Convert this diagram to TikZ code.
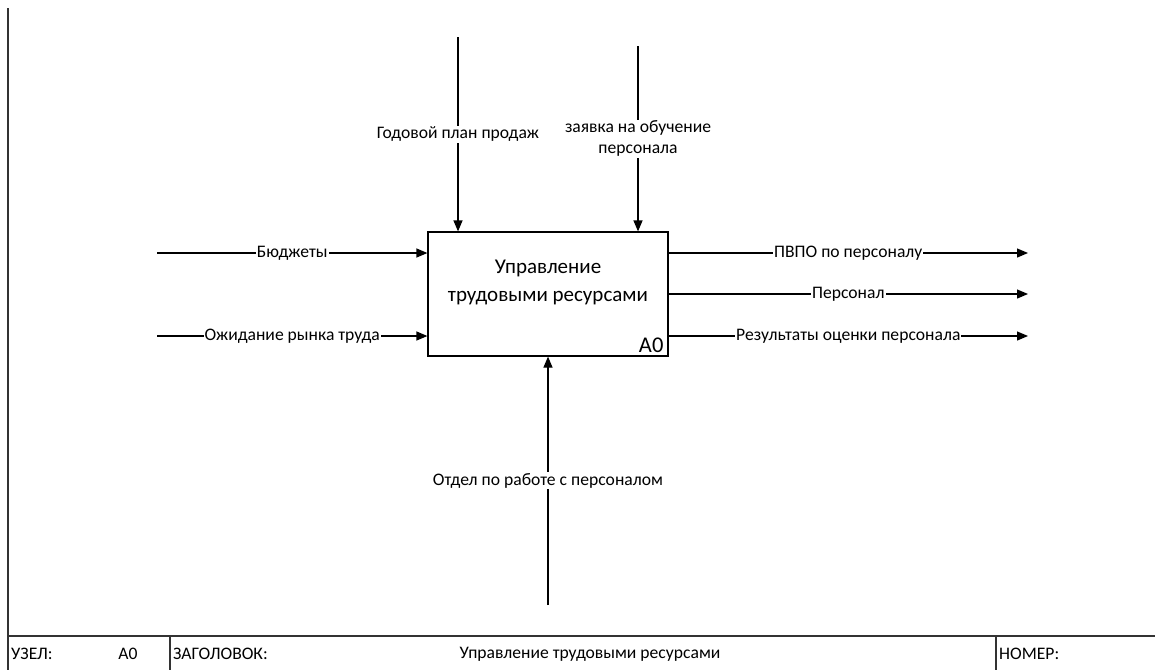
\documentclass[tikz,border=0pt]{standalone}
\usepackage{fontspec}
\setmainfont{Carlito}
\usetikzlibrary{arrows.meta,positioning}

\tikzset{
  flow/.style={-{Triangle[length=11pt,width=9pt]}, line width=1.2pt},
  lbl/.style={fill=white, inner sep=1pt, font=\fontsize{17.6}{21}\selectfont, align=center},
  cell/.style={font=\fontsize{17.6}{20}\selectfont, inner sep=2pt},
  frame/.style={line width=1.2pt, black!80},
}

\begin{document}
\begin{tikzpicture}[x=1pt,y=-1pt]
  \useasboundingbox (0,0) rectangle (1155,670);

  % sheet frame and title row
  \draw[frame] (8,8) -- (8,670);
  \draw[frame] (8,636) -- (1155,636);
  \draw[frame] (170,636) -- (170,670);
  \draw[frame] (996,636) -- (996,670);
  \node[cell, anchor=west] (uzel) at (9,654) {УЗЕЛ:};
  \node[cell] (uzelnum) at (128,654) {А0};
  \node[cell, anchor=west] (zagolovok) at (171,654) {ЗАГОЛОВОК:};
  \node[cell] (title) at (590,654) {Управление трудовыми ресурсами};
  \node[cell, anchor=west] (nomer) at (997,654) {НОМЕР:};

  % function box
  \node[draw, line width=1.2pt, minimum width=240pt, minimum height=124pt] (a0) at (548,294) {};
  \node[align=center, font=\fontsize{21}{28}\selectfont] (a0name) at (548,282) {Управление\\трудовыми ресурсами};
  \node[anchor=south east, font=\fontsize{22.5}{24}\selectfont, inner xsep=5pt, inner ysep=4pt] (a0num) at (a0.south east) {А0};

  % inputs
  \coordinate (in1) at (157,253);
  \coordinate (in2) at (157,336);
  \draw[flow] (in1) -- node[lbl] {Бюджеты} (a0.west |- in1);
  \draw[flow] (in2) -- node[lbl] {Ожидание рынка труда} (a0.west |- in2);

  % controls
  \coordinate (ctl1) at (458,37);
  \coordinate (ctl2) at (638,46);
  \draw[flow] (ctl1) -- node[lbl] {Годовой план продаж} (ctl1 |- a0.north);
  \draw[flow] (ctl2) -- node[lbl] {заявка на обучение\\персонала} (ctl2 |- a0.north);

  % outputs
  \coordinate (out1) at (1028,253);
  \coordinate (out2) at (1028,294);
  \coordinate (out3) at (1028,336);
  \draw[flow] (a0.east |- out1) -- node[lbl] {ПВПО по персоналу} (out1);
  \draw[flow] (a0.east |- out2) -- node[lbl] {Персонал} (out2);
  \draw[flow] (a0.east |- out3) -- node[lbl] {Результаты оценки персонала} (out3);

  % mechanism
  \coordinate (mech) at (548,605);
  \draw[flow] (mech) -- node[lbl] {Отдел по работе с персоналом} (a0.south);
\end{tikzpicture}
\end{document}
